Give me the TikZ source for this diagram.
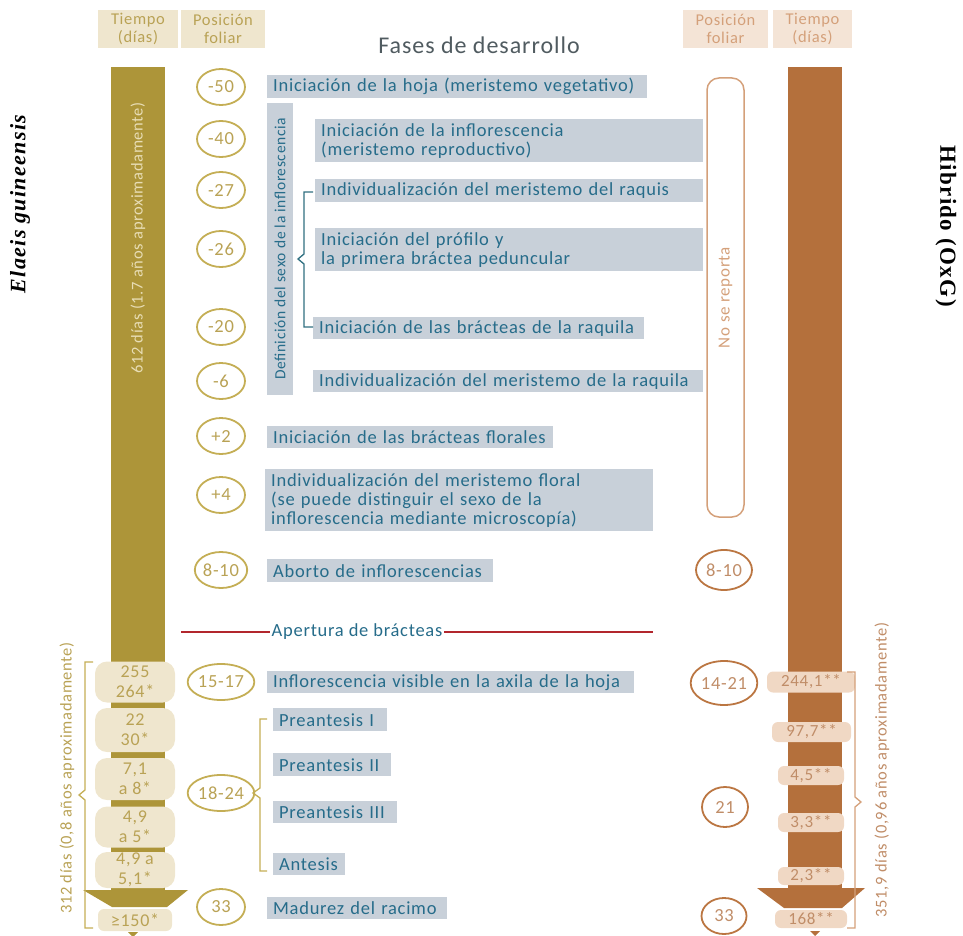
\documentclass[tikz,border=0pt]{standalone}
\usepackage{fontspec}
\setmainfont{Carlito}[LetterSpace=4]
\newfontfamily\timesfont{Liberation Serif}[LetterSpace=6]
\usetikzlibrary{shapes.geometric}

\definecolor{oro}{HTML}{AD9539}
\definecolor{oroclaro}{HTML}{C4AE55}
\definecolor{orotexto}{HTML}{B9A255}
\definecolor{beige}{HTML}{EFE6CE}
\definecolor{beigebarra}{HTML}{E8DDB5}
\definecolor{cafe}{HTML}{B4703C}
\definecolor{cafeclaro}{HTML}{D4A07A}
\definecolor{cafetexto}{HTML}{C08D68}
\definecolor{cafecirc}{HTML}{BB7642}
\definecolor{durazno}{HTML}{F0D8C4}
\definecolor{grisfase}{HTML}{C8D0D9}
\definecolor{azulfase}{HTML}{266C8A}
\definecolor{azulllave}{HTML}{2F6F80}
\definecolor{rojo}{HTML}{B2262D}
\definecolor{grisosc}{HTML}{505B60}

\begin{document}
\begin{tikzpicture}[x=1pt,y=-1pt,
    fase/.style={fill=grisfase,text=azulfase,anchor=north west,align=left,inner xsep=6pt,inner ysep=0pt,font=\fontsize{18.5}{19}\selectfont},
    posoro/.style={ellipse,draw=oroclaro,line width=1.8pt,text=orotexto,minimum width=48pt,minimum height=36pt,inner sep=0.5pt,font=\fontsize{18.5}{19}\selectfont},
    poscafe/.style={ellipse,draw=cafecirc,line width=1.8pt,text=cafetexto,inner sep=0.5pt,font=\fontsize{18.5}{19}\selectfont},
    cabizq/.style={fill=beige,text=orotexto,minimum width=80pt,minimum height=38pt,align=center,inner sep=0pt,font=\fontsize{16.5}{18}\selectfont},
    cabder/.style={cabizq,fill=durazno!70,text=cafeclaro},
    pilizq/.style={fill=beige,text=orotexto,rounded corners=12pt,minimum width=80pt,align=center,inner sep=0pt,font=\fontsize{18}{20}\selectfont},
    pilder/.style={fill=durazno,text=cafetexto,rounded corners=6pt,align=center,inner sep=0pt,font=\fontsize{17}{18}\selectfont},
    vertical/.style={rotate=90,font=\fontsize{16.5}{18}\selectfont},
    llave/.style={line width=1.3pt,line join=miter}
]
\useasboundingbox (0,0) rectangle (963,936);

% Encabezados
\node[cabizq] (tiempoI) at (138,29) {Tiempo\\(días)};
\node[cabizq,minimum width=84pt] (posI) at (223,29) {Posición\\foliar};
\node[cabder,minimum width=85pt] (posD) at (725.5,29) {Posición\\foliar};
\node[cabder,minimum width=79pt] (tiempoD) at (812.5,29) {Tiempo\\(días)};
\node[text=grisosc,font=\fontsize{24}{26}\selectfont] (titulo) at (479,45) {Fases de desarrollo};

% Especies
\node[rotate=90,font=\timesfont\bfseries\itshape\fontsize{22}{24}\selectfont] (elaeis) at (20,204) {Elaeis guineensis};
\node[rotate=-90,font=\timesfont\bfseries\fontsize{23}{25}\selectfont] (hibrido) at (946,226) {Hibrido (OxG)};

% Barras de tiempo
\fill[oro] (111,67) rectangle (165,892);
\fill[oro] (83,890) -- (188,890) -- (167,907) -- (112,907) -- cycle;
\fill[oro] (128,932) -- (138,932) -- (133,937) -- cycle;
\node[vertical,text=beigebarra] (dias612) at (138,238) {612 días (1.7 años aproximadamente)};

\fill[cafe] (788,67) rectangle (842,890);
\fill[cafe] (757,888) -- (865,888) -- (842,908) -- (784,908) -- cycle;
\fill[cafe] (810,931) -- (820,931) -- (815,936) -- cycle;

% Tiempos E. guineensis
\node[pilizq,minimum height=41pt] (t1) at (135,682) {255\\264*};
\node[pilizq,minimum height=44pt] (t2) at (135,730) {22\\30*};
\node[pilizq,minimum height=42pt] (t3) at (135,779) {7,1\\a 8*};
\node[pilizq,minimum height=41pt] (t4) at (135,827) {4,9\\a 5*};
\node[pilizq,minimum height=36pt] (t5) at (135,870) {4,9 a\\5,1*};
\node[pilizq,minimum width=74pt,minimum height=22pt,rounded corners=6pt] (t6) at (135,920) {≥150*};

% Tiempos hibrido
\node[pilder,minimum width=88pt,minimum height=21pt] (h1) at (811,682) {244,1**};
\node[pilder,minimum width=79pt,minimum height=20pt] (h2) at (811.5,732) {97,7**};
\node[pilder,minimum width=66pt,minimum height=19pt] (h3) at (811,775.5) {4,5**};
\node[pilder,minimum width=66pt,minimum height=19pt] (h4) at (811,822.5) {3,3**};
\node[pilder,minimum width=66pt,minimum height=18pt] (h5) at (811,876) {2,3**};
\node[pilder,minimum width=72pt,minimum height=18pt] (h6) at (811,919) {168**};

% Llaves de duracion
\draw[llave,oroclaro] (93,662) -- (85,662) -- (85,790) -- (79,795) -- (85,800) -- (85,928) -- (93,928);
\node[vertical,text=orotexto] (dias312) at (67,778) {312 días (0,8 años aproximadamente)};
\draw[llave,cafeclaro] (847,672) -- (855,672) -- (855,797) -- (861,802) -- (855,807) -- (855,928) -- (847,928);
\node[vertical,text=cafetexto] (dias351) at (882,770) {351,9 días (0,96 años aproximadamente)};

% Posicion foliar E. guineensis
\foreach \nom/\yy/\txt in {c50/87/-50,c40/139/-40,c27/190/-27,c26/249/-26,c20/327/-20,c6/381/-6,
                           m2/436/+2,m4/495/+4,c810/570/8-10,c1517/682/15-17,c1824/793/18-24,c33/907/33}
    \node[posoro] (\nom) at (221,\yy) {\txt};

% Posicion foliar hibrido
\node[draw=cafeclaro,line width=1.5pt,rounded corners=12pt,rotate=90,minimum width=439pt,minimum height=37pt,
      text=cafeclaro,font=\fontsize{17}{18}\selectfont] (noreporta) at (725.5,297.5) {No se reporta};
\node[poscafe,minimum width=56pt,minimum height=40pt] (d810) at (724,570) {8-10};
\node[poscafe,minimum width=56pt,minimum height=44pt] (d1421) at (724,683) {14-21};
\node[poscafe,minimum width=46pt,minimum height=40pt] (d21) at (725,807) {21};
\node[poscafe,minimum width=45pt,minimum height=36pt] (d33) at (724,916) {33};

% Fases
\node[fase,text width=368pt,minimum height=23pt] (f1) at (267,75) {Iniciación de la hoja (meristemo vegetativo)};
\node[fase,anchor=center,rotate=90,align=center,minimum width=292pt,minimum height=26pt,font=\fontsize{15.5}{17}\selectfont] (defsexo) at (280,249) {Definición del sexo de la inflorescencia};
\node[fase,text width=376pt,minimum height=43pt] (f2) at (315,119) {Iniciación de la inflorescencia\\(meristemo reproductivo)};
\node[fase,text width=376pt,minimum height=23pt] (f3) at (315,179) {Individualización del meristemo del raquis};
\node[fase,text width=376pt,minimum height=43pt] (f4) at (315,228) {Iniciación del prófilo y\\la primera bráctea peduncular};
\node[fase,text width=319pt,minimum height=22pt] (f5) at (313,317) {Iniciación de las brácteas de la raquila};
\node[fase,text width=378pt,minimum height=22pt] (f6) at (313,370) {Individualización del meristemo de la raquila};
\node[fase,text width=274pt,minimum height=22pt] (f7) at (267,426) {Iniciación de las brácteas florales};
\node[fase,text width=376pt,minimum height=62pt] (f8) at (265,469) {Individualización del meristemo floral\\(se puede distinguir el sexo de la\\inflorescencia mediante microscopía)};
\node[fase,text width=214pt,minimum height=23pt] (f9) at (267,559) {Aborto de inflorescencias};
\node[fase,text width=355pt,minimum height=22pt] (f10) at (267,671) {Inflorescencia visible en la axila de la hoja};
\node[fase,text width=102pt,minimum height=23pt] (f11) at (273,708) {Preantesis I};
\node[fase,text width=106pt,minimum height=23pt] (f12) at (273,753) {Preantesis II};
\node[fase,text width=112pt,minimum height=22pt] (f13) at (273,801) {Preantesis III};
\node[fase,text width=60pt,minimum height=22pt] (f14) at (273,853) {Antesis};
\node[fase,text width=168pt,minimum height=22pt] (f15) at (267,897) {Madurez del racimo};

% Llaves de fases
\draw[llave,azulllave] (313,192) -- (304,192) -- (304,254) -- (298,259) -- (304,264) -- (304,327) -- (313,327);
\draw[llave,oroclaro] (267,719) -- (260,719) -- (260,788) -- (253,793) -- (260,798) -- (260,871) -- (267,871);

% Apertura de bracteas
\node[text=azulfase,inner sep=2pt,font=\fontsize{18.5}{19}\selectfont] (apertura) at (357,632) {Apertura de brácteas};
\draw[rojo,line width=2pt] (181,632) -- (apertura.west);
\draw[rojo,line width=2pt] (apertura.east) -- (653,632);
\end{tikzpicture}
\end{document}
